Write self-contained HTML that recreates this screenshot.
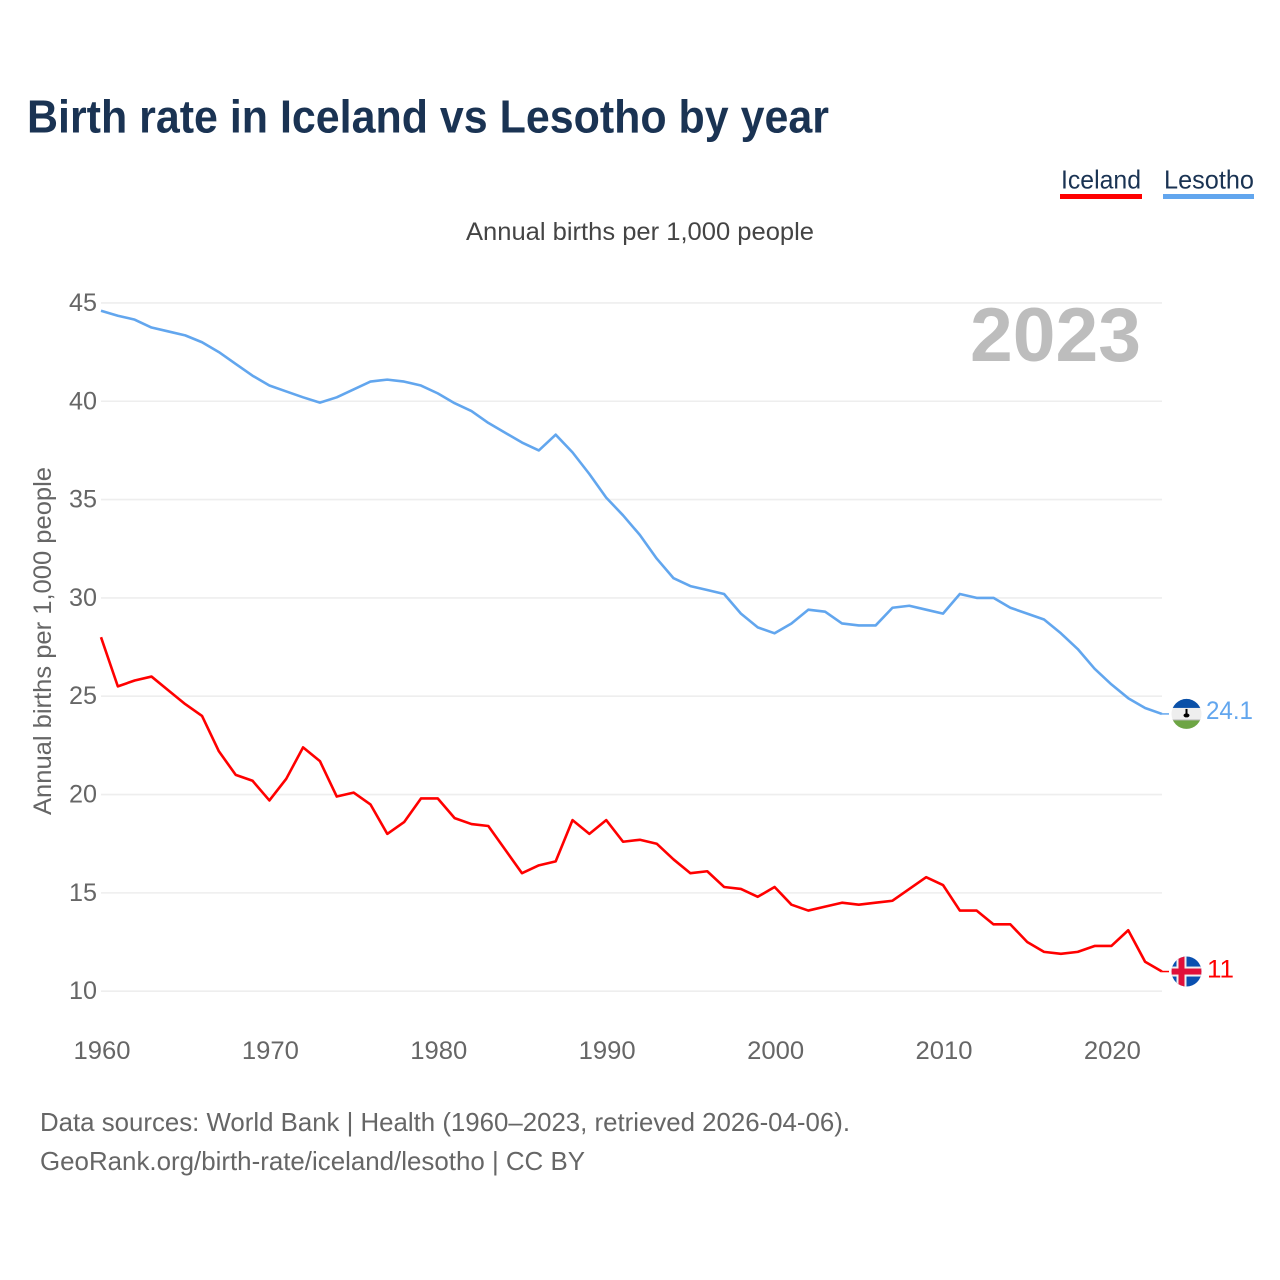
<!DOCTYPE html>
<html lang="en">
<head>
<meta charset="utf-8">
<title>Birth rate in Iceland vs Lesotho by year</title>
<style>
html,body{margin:0;padding:0;background:#fff;}
svg{display:block;}
text{font-family:"Liberation Sans",sans-serif;}
</style>
</head>
<body>
<svg id="chart" xmlns="http://www.w3.org/2000/svg" width="1280" height="1280" viewBox="0 0 1280 1280">
  <rect x="0" y="0" width="1280" height="1280" fill="#fff"/>
  <defs>
    <clipPath id="clip-lesotho"><circle id="clip-lesotho-circle" cx="1186.5" cy="714" r="15"/></clipPath>
    <clipPath id="clip-iceland"><circle id="clip-iceland-circle" cx="1186.5" cy="971" r="15"/></clipPath>
  </defs>

  <text x="27" y="132.5" font-size="46" font-weight="700" fill="#1a3353" textLength="802" lengthAdjust="spacingAndGlyphs">Birth rate in Iceland vs Lesotho by year</text>

  <g>
    <g>
      <text x="1061" y="188.5" font-size="26" fill="#1a3353" textLength="80" lengthAdjust="spacingAndGlyphs">Iceland</text>
      <rect x="1060" y="194" width="82" height="5" fill="#ff0000"/>
    </g>
    <g>
      <text x="1164" y="188.5" font-size="26" fill="#1a3353" textLength="90" lengthAdjust="spacingAndGlyphs">Lesotho</text>
      <rect x="1163" y="194" width="91" height="5" fill="#62a6ee"/>
    </g>
  </g>

  <text x="466" y="240" font-size="25" fill="#444" textLength="348" lengthAdjust="spacingAndGlyphs">Annual births per 1,000 people</text>

  <g id="grid"></g>
  <g id="y-ticks"></g>
  <g id="x-ticks"></g>

  <text transform="translate(51,815) rotate(-90)" font-size="25" fill="#666" textLength="348" lengthAdjust="spacingAndGlyphs">Annual births per 1,000 people</text>

  <text x="970" y="361" font-size="76" font-weight="700" fill="#bdbdbd" textLength="171" lengthAdjust="spacingAndGlyphs">2023</text>

  <g id="series"></g>
  <g id="end-markers"></g>

  <g>
    <text x="40" y="1131" font-size="26" fill="#666" textLength="810" lengthAdjust="spacingAndGlyphs">Data sources: World Bank | Health (1960–2023, retrieved 2026-04-06).</text>
    <text x="40" y="1170" font-size="26" fill="#666" textLength="545" lengthAdjust="spacingAndGlyphs">GeoRank.org/birth-rate/iceland/lesotho | CC BY</text>
  </g>
</svg>
<script>
const startYear = 1960;
const icelandValues = [28,25.5,25.8,26,25.3,24.6,24,22.2,21,20.7,19.7,20.8,22.4,21.7,19.9,20.1,19.5,18,18.6,19.8,19.8,18.8,18.5,18.4,17.2,16,16.4,16.6,18.7,18,18.7,17.6,17.7,17.5,16.7,16,16.1,15.3,15.2,14.8,15.3,14.4,14.1,14.3,14.5,14.4,14.5,14.6,15.2,15.8,15.4,14.1,14.1,13.4,13.4,12.5,12,11.9,12,12.3,12.3,13.1,11.5,11];
const lesothoValues = [44.6,44.35,44.15,43.75,43.55,43.35,43,42.5,41.9,41.3,40.8,40.5,40.2,39.93,40.2,40.6,41,41.1,41,40.8,40.4,39.9,39.5,38.9,38.4,37.9,37.5,38.3,37.4,36.3,35.1,34.2,33.2,32,31,30.6,30.4,30.2,29.2,28.5,28.2,28.7,29.4,29.3,28.7,28.6,28.6,29.5,29.6,29.4,29.2,30.2,30,30,29.5,29.2,28.9,28.2,27.4,26.4,25.6,24.9,24.4,24.1];
const yTickValues = [10,15,20,25,30,35,40,45];
const xTickYears = [1960,1970,1980,1990,2000,2010,2020];
const icelandEndLabel = "11";
const lesothoEndLabel = "24.1";

const NS = 'http://www.w3.org/2000/svg';
function xScale(year){ return 101 + (year - 1960) * 16.84; }
function yScale(v){ return 991.2 - (v - 10) * 19.665; }
function make(tag, attrs, parent){
  const el = document.createElementNS(NS, tag);
  for (const k in attrs) el.setAttribute(k, attrs[k]);
  parent.appendChild(el);
  return el;
}

const grid = document.getElementById('grid');
const yTicks = document.getElementById('y-ticks');
const xTicks = document.getElementById('x-ticks');
const seriesGroup = document.getElementById('series');
const markers = document.getElementById('end-markers');

yTickValues.forEach(function(v){
  const line = make('line', {x1:101, x2:1162, y1:yScale(v), y2:yScale(v), stroke:'#eeeeee', 'stroke-width':1.6}, grid);
  
  
  const t = make('text', {x:97, y:yScale(v)+8, 'text-anchor':'end', 'font-size':25, fill:'#666', textLength:28, lengthAdjust:'spacingAndGlyphs'}, yTicks);
  
  
  t.textContent = String(v);
});

xTickYears.forEach(function(y){
  const t = make('text', {x:xScale(y)-27.5, y:1059, 'font-size':25, fill:'#666', textLength:57, lengthAdjust:'spacingAndGlyphs'}, xTicks);
  
  
  t.textContent = String(y);
});

function points(values){
  return values.map(function(v, i){ return xScale(startYear + i).toFixed(2) + ',' + yScale(v).toFixed(2); }).join(' ');
}

const lesothoLine = make('polyline', {points:points(lesothoValues), fill:'none', stroke:'#62a6ee', 'stroke-width':2.6, 'stroke-linejoin':'round'}, seriesGroup);


const icelandLine = make('polyline', {points:points(icelandValues), fill:'none', stroke:'#ff0000', 'stroke-width':2.6, 'stroke-linejoin':'round'}, seriesGroup);



const lastYear = startYear + icelandValues.length - 1;
const lesY = yScale(lesothoValues[lesothoValues.length - 1]);
const iceY = yScale(icelandValues[icelandValues.length - 1]);
const flagX = 1186.5;

const lesConn = make('line', {x1:xScale(lastYear), x2:1169, y1:lesY, y2:lesY, stroke:'#62a6ee', 'stroke-width':1.5}, markers);


const iceConn = make('line', {x1:xScale(lastYear), x2:1169, y1:iceY, y2:iceY, stroke:'#ff0000', 'stroke-width':1.5}, markers);



document.getElementById('clip-lesotho-circle').setAttribute('cy', lesY);
document.getElementById('clip-iceland-circle').setAttribute('cy', iceY);

const lesFlag = make('g', {'clip-path':'url(#clip-lesotho)'}, markers);


make('rect', {x:flagX-16, y:lesY-16, width:32, height:32, fill:'#eeeeee'}, lesFlag);
make('rect', {x:flagX-16, y:lesY-16, width:32, height:10, fill:'#0a50a8'}, lesFlag);
make('rect', {x:flagX-16, y:lesY+5.5, width:32, height:1.5, fill:'#bbbbbb'}, lesFlag);
make('rect', {x:flagX-16, y:lesY+6.5, width:32, height:10, fill:'#6da544'}, lesFlag);
make('rect', {x:flagX-1, y:lesY-5, width:2, height:6, fill:'#000'}, lesFlag);
make('ellipse', {cx:flagX, cy:lesY+1.5, rx:3, ry:2, fill:'#000'}, lesFlag);

const iceFlag = make('g', {'clip-path':'url(#clip-iceland)'}, markers);


make('rect', {x:flagX-16, y:iceY-16, width:32, height:32, fill:'#0a50b0'}, iceFlag);
make('rect', {x:flagX-16, y:iceY-5, width:32, height:10, fill:'#f0f0f0'}, iceFlag);
make('rect', {x:flagX-10, y:iceY-16, width:10, height:32, fill:'#f0f0f0'}, iceFlag);
make('rect', {x:flagX-16, y:iceY-3, width:32, height:6, fill:'#e0103a'}, iceFlag);
make('rect', {x:flagX-8, y:iceY-16, width:6, height:32, fill:'#e0103a'}, iceFlag);

const lesLabel = make('text', {x:1206, y:lesY+5, 'font-size':25, fill:'#62a6ee', textLength:47, lengthAdjust:'spacingAndGlyphs'}, markers);


lesLabel.textContent = lesothoEndLabel;
const iceLabel = make('text', {x:1207, y:iceY+6, 'font-size':25, fill:'#ff0000', textLength:27, lengthAdjust:'spacingAndGlyphs'}, markers);


iceLabel.textContent = icelandEndLabel;
</script>
</body>
</html>
